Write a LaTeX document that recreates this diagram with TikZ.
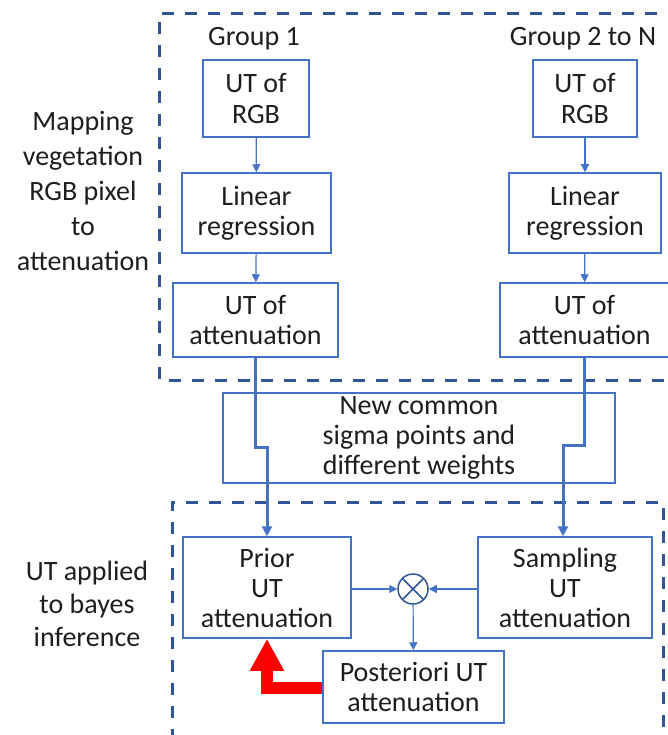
\documentclass[tikz,border=0pt]{standalone}
\usepackage{fontspec}
\setmainfont{Carlito}
\usepackage{tikz}
\usetikzlibrary{
  arrows.meta,
  positioning
}
\definecolor{groupblue}{RGB}{47,85,151}
\definecolor{boxblue}{RGB}{68,114,196}
\definecolor{txtgray}{RGB}{30,30,30}

\begin{document}
\begin{tikzpicture}[x=1pt, y=-1pt,
  txt/.style={font=\fontsize{28}{30}\selectfont, text=txtgray, align=center, inner sep=0pt},
  sidetxt/.style={txt, font=\fontsize{28}{35}\selectfont},
  blk/.style={txt, draw=boxblue, line width=1.5pt},
  groupbox/.style={draw=groupblue, line width=3pt, dash pattern=on 12pt off 11pt},
  thinarrow/.style={draw=boxblue, line width=1.2pt, -{Triangle[length=8pt,width=8pt]}},
  thickarrow/.style={draw=boxblue, line width=3pt, -{Triangle[length=10pt,width=10pt]}},
  feedback/.style={draw=red, line width=12pt, -{Triangle[length=32pt,width=32pt]}}
]
  \useasboundingbox (0,0) rectangle (668,735);
  \clip (0,0) rectangle (668,735);

  % Dashed group frames
  \draw[groupbox] (680,14) -- (159,14) -- (159,380) -- (680,380);
  \draw[groupbox] (663,750) -- (663,502) -- (172,502) -- (172,750);

  % Side labels
  \node[sidetxt] (maplbl) at (83,191) {Mapping\\vegetation\\RGB pixel\\to\\attenuation};
  \node[sidetxt, font=\fontsize{28}{33}\selectfont] (utlbl) at (87,604) {UT applied\\to bayes\\inference};

  % Group 1
  \node[txt] (grpA) at (254,39) {Group 1};
  \node[blk, minimum width=106pt, minimum height=77pt] (rgbA) at (256,98.5) {UT of\\RGB};
  \node[blk, minimum width=149pt, minimum height=80pt] (linA) at (256.5,213) {Linear\\regression};
  \node[blk, minimum width=165pt, minimum height=74pt] (attA) at (255.5,320) {UT of\\attenuation};

  % Group 2 to N
  \node[txt] (grpB) at (583,39) {Group 2 to N};
  \node[blk, minimum width=104pt, minimum height=77pt] (rgbB) at (585,98.5) {UT of\\RGB};
  \node[blk, minimum width=152pt, minimum height=80pt] (linB) at (585,213) {Linear\\regression};
  \node[blk, minimum width=169pt, minimum height=74pt] (attB) at (584.5,320) {UT of\\attenuation};

  \draw[thinarrow] (rgbA) -- (linA);
  \draw[thinarrow] (linA) -- (attA);
  \draw[thinarrow] (rgbB) -- (linB);
  \draw[thinarrow] (linB) -- (attB);

  % Common sigma points
  \node[blk, minimum width=392pt, minimum height=90pt] (sigma) at (419,438) {New common\\sigma points and\\different weights};

  % Bayes inference
  \node[blk, minimum width=168pt, minimum height=101pt] (prior) at (267,587.5) {Prior\\UT\\attenuation};
  \node[blk, minimum width=174pt, minimum height=101pt] (samp) at (565,587.5) {Sampling\\UT\\attenuation};
  \node[blk, minimum width=181pt, minimum height=72pt] (post) at (413.5,687) {Posteriori UT\\attenuation};
  \node[circle, draw=groupblue, line width=1.5pt, minimum size=30pt, inner sep=0pt,
    path picture={\draw[groupblue, line width=1.5pt]
      (path picture bounding box.north west) -- (path picture bounding box.south east)
      (path picture bounding box.north east) -- (path picture bounding box.south west);}]
    (mult) at (413,589) {};

  \draw[thickarrow] (attA.south) -- ++(0,90) -| (prior.north);
  \draw[thickarrow] (attB.south) -- ++(0,88) -| ([xshift=-2pt]samp.north);

  \draw[thinarrow] (prior.east |- mult) -- (mult);
  \draw[thinarrow] (samp.west |- mult) -- (mult);
  \draw[thinarrow] (mult) -- (post);
  \draw[feedback] ([yshift=-1pt]post.west) -| (prior.south);
\end{tikzpicture}
\end{document}
